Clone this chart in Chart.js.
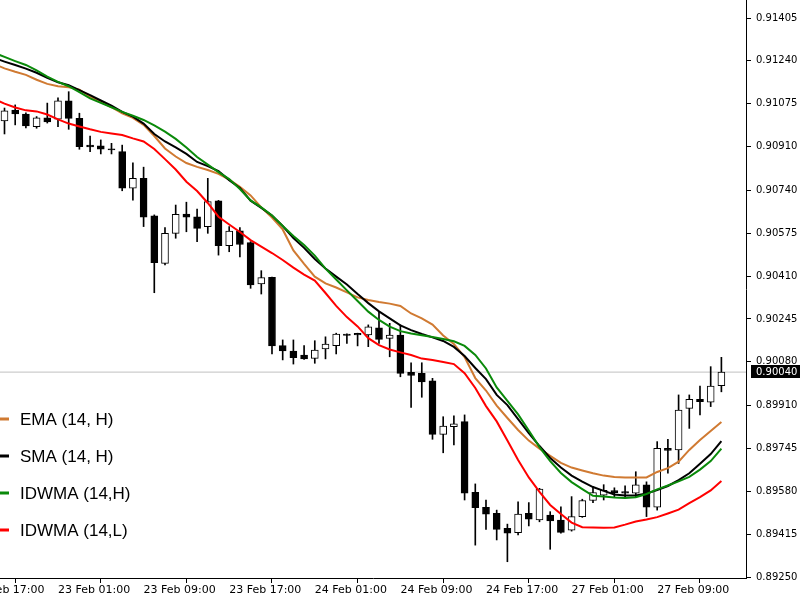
<!DOCTYPE html>
<html>
<head>
<meta charset="utf-8">
<script src="https://cdn.jsdelivr.net/npm/chart.js@4.4.1/dist/chart.umd.min.js"></script>
<style>
html,body{margin:0;padding:0;background:#fff;overflow:hidden}
canvas{display:block}
</style>
</head>
<body>
<canvas id="c" width="800" height="600"></canvas>
<script>
// ---- tick labels ----
const xTickLabels = ['22 Feb 17:00','23 Feb 01:00','23 Feb 09:00','23 Feb 17:00','24 Feb 01:00','24 Feb 09:00','24 Feb 17:00','27 Feb 01:00','27 Feb 09:00'];
const xTickBars = [-3, 5, 13, 21, 29, 37, 45, 53, 61];
const yTickLabels = ['0.91405','0.91240','0.91075','0.90910','0.90740','0.90575','0.90410','0.90245','0.90080','0.89910','0.89745','0.89580','0.89415','0.89250'];
const currentPrice = 0.90040;

// ---- hourly candles (bar 0 = 22 Feb 20:00) ----
const opens = [0.91008,0.91050,0.91035,0.90986,0.91020,0.91015,0.91086,0.91018,0.90915,0.90912,
0.90901,0.90890,0.90749,0.90787,0.90642,0.90459,0.90575,0.90649,0.90639,0.90601,
0.90700,0.90527,0.90585,0.90539,0.90380,0.90405,0.90142,0.90121,0.90106,0.90093,
0.90129,0.90142,0.90187,0.90189,0.90183,0.90211,0.90170,0.90183,0.90039,0.90035,
0.90006,0.89800,0.89830,0.89849,0.89577,0.89519,0.89496,0.89438,0.89421,0.89496,
0.89470,0.89489,0.89470,0.89431,0.89483,0.89545,0.89566,0.89583,0.89579,0.89573,
0.89605,0.89519,0.89746,0.89740,0.89900,0.89935,0.89924,0.89988];
const highs = [0.91058,0.91070,0.91039,0.91025,0.91077,0.91097,0.91121,0.91038,0.90950,0.90935,
0.90922,0.90915,0.90847,0.90830,0.90646,0.90597,0.90684,0.90695,0.90668,0.90787,
0.90702,0.90601,0.90597,0.90543,0.90431,0.90406,0.90164,0.90164,0.90142,0.90161,
0.90176,0.90190,0.90188,0.90190,0.90222,0.90273,0.90228,0.90222,0.90076,0.90076,
0.90016,0.89868,0.89871,0.89875,0.89609,0.89547,0.89508,0.89454,0.89540,0.89537,
0.89592,0.89502,0.89521,0.89560,0.89550,0.89599,0.89606,0.89594,0.89602,0.89656,
0.89617,0.89772,0.89781,0.89952,0.89952,0.89986,0.90061,0.90097];
const lows = [0.90958,0.90993,0.90981,0.90980,0.91000,0.90986,0.90976,0.90899,0.90890,0.90881,
0.90881,0.90739,0.90703,0.90601,0.90346,0.90453,0.90556,0.90581,0.90543,0.90575,
0.90491,0.90504,0.90484,0.90363,0.90341,0.90110,0.90087,0.90071,0.90089,0.90074,
0.90091,0.90110,0.90151,0.90141,0.90138,0.90151,0.90099,0.90022,0.89904,0.89943,
0.89781,0.89729,0.89759,0.89547,0.89373,0.89434,0.89393,0.89309,0.89412,0.89447,
0.89463,0.89357,0.89419,0.89427,0.89480,0.89537,0.89547,0.89560,0.89553,0.89560,
0.89483,0.89508,0.89650,0.89688,0.89823,0.89875,0.89907,0.89964];
const closes = [0.91047,0.91035,0.90989,0.91020,0.91004,0.91086,0.91018,0.90909,0.90908,0.90899,
0.90896,0.90749,0.90787,0.90637,0.90462,0.90575,0.90648,0.90637,0.90594,0.90697,
0.90527,0.90584,0.90532,0.90376,0.90404,0.90141,0.90122,0.90096,0.90091,0.90125,
0.90148,0.90187,0.90181,0.90183,0.90215,0.90166,0.90183,0.90035,0.90027,0.90002,
0.89800,0.89832,0.89841,0.89573,0.89517,0.89492,0.89434,0.89419,0.89493,0.89473,
0.89589,0.89466,0.89422,0.89483,0.89545,0.89576,0.89584,0.89575,0.89573,0.89605,
0.89519,0.89746,0.89738,0.89894,0.89935,0.89926,0.89986,0.90040];

// ---- moving averages (start one bar earlier: bar -1) ----
const maFirstBar = -1;
const ema = [0.91228,0.91211,0.91198,0.91186,0.91167,0.91151,0.91142,0.91138,0.91129,0.91102,0.91082,
0.91061,0.91037,0.91020,0.90993,0.90950,0.90902,0.90871,0.90846,0.90831,0.90819,
0.90804,0.90782,0.90754,0.90721,0.90675,0.90636,0.90590,0.90509,0.90457,0.90408,
0.90382,0.90366,0.90347,0.90328,0.90318,0.90310,0.90304,0.90295,0.90266,0.90247,
0.90223,0.90181,0.90148,0.90098,0.90017,0.89969,0.89911,0.89863,0.89817,0.89776,
0.89745,0.89717,0.89690,0.89672,0.89661,0.89650,0.89641,0.89636,0.89634,0.89634,
0.89634,0.89655,0.89670,0.89695,0.89740,0.89778,0.89813,0.89848];
const sma = [0.91251,0.91237,0.91224,0.91210,0.91194,0.91174,0.91157,0.91146,0.91127,0.91108,0.91087,
0.91067,0.91043,0.91025,0.90998,0.90958,0.90929,0.90906,0.90881,0.90850,0.90834,
0.90815,0.90780,0.90750,0.90701,0.90673,0.90644,0.90603,0.90557,0.90519,0.90476,
0.90439,0.90408,0.90378,0.90341,0.90306,0.90274,0.90247,0.90220,0.90202,0.90187,
0.90174,0.90160,0.90137,0.90102,0.90056,0.90013,0.89952,0.89913,0.89859,0.89805,
0.89755,0.89709,0.89672,0.89641,0.89618,0.89597,0.89582,0.89568,0.89564,0.89564,
0.89572,0.89585,0.89601,0.89624,0.89650,0.89687,0.89724,0.89774];
const idwmaH = [0.91272,0.91255,0.91239,0.91224,0.91203,0.91179,0.91159,0.91142,0.91119,0.91095,0.91078,
0.91061,0.91043,0.91028,0.91012,0.90991,0.90967,0.90939,0.90906,0.90869,0.90840,
0.90811,0.90784,0.90746,0.90702,0.90675,0.90644,0.90603,0.90565,0.90530,0.90489,
0.90439,0.90397,0.90355,0.90314,0.90273,0.90241,0.90215,0.90198,0.90189,0.90182,
0.90175,0.90168,0.90159,0.90141,0.90106,0.90054,0.89981,0.89929,0.89877,0.89815,
0.89751,0.89697,0.89651,0.89616,0.89589,0.89563,0.89560,0.89557,0.89555,0.89558,
0.89570,0.89588,0.89603,0.89619,0.89636,0.89664,0.89697,0.89745];
const idwmaL = [0.91093,0.91075,0.91060,0.91049,0.91045,0.91033,0.91014,0.90998,0.90987,0.90976,0.90966,
0.90960,0.90954,0.90941,0.90929,0.90900,0.90861,0.90821,0.90774,0.90738,0.90692,
0.90639,0.90609,0.90580,0.90549,0.90524,0.90499,0.90472,0.90443,0.90416,0.90393,
0.90345,0.90295,0.90252,0.90216,0.90171,0.90144,0.90127,0.90116,0.90106,0.90092,
0.90087,0.90079,0.90071,0.90036,0.89979,0.89909,0.89850,0.89776,0.89701,0.89634,
0.89578,0.89528,0.89493,0.89460,0.89442,0.89441,0.89440,0.89441,0.89452,0.89464,
0.89472,0.89481,0.89495,0.89510,0.89535,0.89558,0.89584,0.89620];

// ---- view window ----
const xMin = -0.42, xMax = 69.30;
const yMin = 0.892463, yMax = 0.914744;

const bars = opens.map((_, i) => i);
const bodyData = bars.map(i => ({x: i, y: [opens[i], closes[i]]}));
const wickData = bars.map(i => ({x: i, y: [lows[i], highs[i]]}));
const bodyColors = bars.map(i => closes[i] >= opens[i] ? '#ffffff' : '#000000');
const maPoints = arr => arr.map((v, k) => ({x: k + maFirstBar, y: v}));

const lineDs = (label, arr, color, order) => ({
  type: 'line', label, data: maPoints(arr), borderColor: color, backgroundColor: color,
  borderWidth: 2, pointRadius: 0, tension: 0, fill: false, order, inLegend: true
});

const legendPlugin = {
  id: 'sideLegend',
  afterDraw(chart) {
    const ctx = chart.ctx;
    const items = chart.data.datasets.filter(d => d.inLegend);
    ctx.save();
    ctx.font = '17px "Liberation Sans", Arial, sans-serif';
    ctx.textBaseline = 'middle';
    ctx.textAlign = 'left';
    items.forEach((d, k) => {
      const cy = 419 + k * 37;
      ctx.fillStyle = d.borderColor;
      ctx.fillRect(0, cy - 1.5, 9, 3);
      ctx.fillStyle = '#000';
      ctx.fillText(d.label, 20, cy + 1);
    });
    ctx.restore();
  }
};

const priceLabelPlugin = {
  id: 'priceLabel',
  afterDraw(chart) {
    const ctx = chart.ctx, y = chart.scales.y, area = chart.chartArea;
    const py = Math.round(y.getPixelForValue(currentPrice));
    ctx.save();
    ctx.fillStyle = '#000';
    ctx.fillRect(area.right + 5, py - 7, chart.width - area.right - 5, 13);
    ctx.fillStyle = '#fff';
    ctx.font = '10px "DejaVu Sans", sans-serif';
    ctx.textBaseline = 'middle';
    ctx.textAlign = 'left';
    ctx.fillText(currentPrice.toFixed(5), area.right + 10, py);
    ctx.restore();
  }
};

new Chart(document.getElementById('c'), {
  type: 'bar',
  data: {
    datasets: [
      { type: 'line', label: 'price', data: [{x: xMin, y: currentPrice}, {x: xMax, y: currentPrice}],
        borderColor: '#c0c0c0', borderWidth: 1, pointRadius: 0, order: 20 },
      { type: 'bar', label: 'wick', data: wickData, backgroundColor: '#000', borderWidth: 0,
        barThickness: 1, grouped: false, order: 11 },
      { type: 'bar', label: 'body', data: bodyData, backgroundColor: bodyColors, borderColor: '#000',
        borderWidth: 1, borderSkipped: false, barThickness: 7, grouped: false, order: 10 },
      lineDs('EMA (14, H)', ema, '#d07a32', 4),
      lineDs('SMA (14, H)', sma, '#000000', 3),
      lineDs('IDWMA (14,H)', idwmaH, '#0a8a0a', 2),
      lineDs('IDWMA (14,L)', idwmaL, '#ff0000', 1)
    ]
  },
  options: {
    responsive: false,
    animation: false,
    devicePixelRatio: 1,
    layout: { padding: 0 },
    plugins: { legend: { display: false }, tooltip: { enabled: false } },
    scales: {
      x: {
        type: 'linear', min: xMin, max: xMax, offset: false,
        afterBuildTicks: s => { s.ticks = xTickBars.map(v => ({value: v})); },
        ticks: { autoSkip: false, maxRotation: 0, minRotation: 0, align: 'start', padding: 1,
                 color: '#000', font: { family: 'DejaVu Sans', size: 11 },
                 callback: (v, i) => xTickLabels[i] },
        grid: { drawOnChartArea: false, drawTicks: true, tickLength: 5, color: '#000' },
        border: { display: true, color: '#000', width: 1 },
        afterFit: s => { s.height = 22; s.paddingLeft = 0; s.paddingRight = 0; }
      },
      y: {
        type: 'linear', position: 'right', min: yMin, max: yMax,
        afterBuildTicks: s => { s.ticks = yTickLabels.map(t => ({value: parseFloat(t)})); },
        ticks: { autoSkip: false, padding: 5, color: '#000', font: { family: 'DejaVu Sans', size: 10 },
                 callback: (v, i) => yTickLabels[i] },
        grid: { drawOnChartArea: false, drawTicks: true, tickLength: 5, color: '#000' },
        border: { display: true, color: '#000', width: 1 },
        afterFit: s => { s.width = 54; s.paddingTop = 0; s.paddingBottom = 0; }
      }
    }
  },
  plugins: [legendPlugin, priceLabelPlugin]
});
</script>
</body>
</html>
